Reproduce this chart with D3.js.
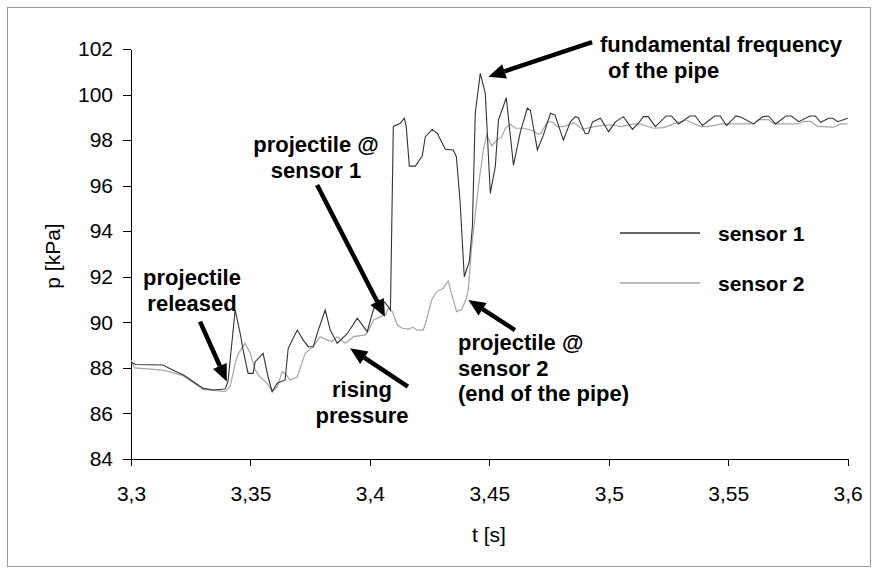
<!DOCTYPE html>
<html><head><meta charset="utf-8">
<script src="https://cdn.jsdelivr.net/npm/d3@7"></script>
<style>
html,body{margin:0;padding:0;background:#fff;}
svg{display:block;font-family:"Liberation Sans",Arial,sans-serif;}
</style></head>
<body>
<svg id="c" width="878" height="574"></svg>
<script>
// ---- data ----
const xTicks = [3.3, 3.35, 3.4, 3.45, 3.5, 3.55, 3.6];
const yTicks = [84, 86, 88, 90, 92, 94, 96, 98, 100, 102];
const seriesNames = ["sensor 1", "sensor 2"];

const s1T = [3.3000,3.3020,3.3134,3.3176,3.3218,3.3260,3.3302,3.3344,3.3394,3.3406,3.3436,3.3457,3.3469,3.3490,3.3511,3.3520,3.3553,3.3574,3.3591,3.3612,3.3645,3.3658,3.3696,3.3721,3.3742,3.3763,3.3784,3.3813,3.3834,3.3863,3.3905,3.3947,3.3989,3.4014,3.4035,3.4060,3.4077,3.4086,3.4098,3.4127,3.4144,3.4152,3.4165,3.4190,3.4219,3.4232,3.4261,3.4282,3.4316,3.4349,3.4362,3.4378,3.4395,3.4416,3.4429,3.4441,3.4462,3.4483,3.4504,3.4525,3.4538,3.4571,3.4601,3.4630,3.4659,3.4672,3.4701,3.4726,3.4756,3.4775,3.4810,3.4839,3.4860,3.4872,3.4902,3.4915,3.4932,3.4965,3.4999,3.5028,3.5061,3.5099,3.5124,3.5145,3.5165,3.5195,3.5240,3.5262,3.5292,3.5340,3.5362,3.5392,3.5443,3.5466,3.5493,3.5532,3.5554,3.5606,3.5645,3.5668,3.5698,3.5742,3.5764,3.5795,3.5842,3.5864,3.5887,3.5920,3.5938,3.5958,3.6000];
const s1P = [88.25,88.15,88.13,87.90,87.70,87.40,87.10,87.03,87.07,87.40,90.54,89.52,88.80,87.76,87.76,88.27,88.64,87.60,86.96,87.33,87.47,88.86,89.66,89.22,88.93,88.93,89.66,90.54,89.66,89.08,89.50,90.18,89.59,90.54,90.98,90.90,90.69,90.54,98.60,98.74,98.96,98.60,96.86,96.86,97.30,98.15,98.47,98.30,97.60,97.57,97.27,95.23,92.00,92.66,94.20,99.18,100.93,100.05,95.67,96.84,98.88,99.86,96.90,98.37,99.40,99.30,97.57,98.22,99.18,99.10,98.00,98.80,99.03,98.98,98.27,98.30,98.80,98.96,98.37,98.80,99.03,98.47,98.74,99.03,99.03,98.59,99.06,99.06,98.71,99.06,99.06,98.64,99.06,99.06,98.64,99.06,99.00,98.71,99.03,99.06,98.71,99.06,99.06,98.81,99.06,99.06,98.78,98.96,98.96,98.81,98.96];

const s2T = [3.3000,3.3015,3.3134,3.3218,3.3302,3.3358,3.3394,3.3415,3.3436,3.3450,3.3478,3.3499,3.3520,3.3540,3.3569,3.3591,3.3612,3.3633,3.3645,3.3666,3.3696,3.3715,3.3729,3.3763,3.3792,3.3820,3.3841,3.3863,3.3897,3.3932,3.3981,3.3995,3.4016,3.4044,3.4064,3.4078,3.4094,3.4115,3.4136,3.4164,3.4180,3.4195,3.4223,3.4237,3.4258,3.4279,3.4307,3.4328,3.4342,3.4363,3.4384,3.4402,3.4412,3.4426,3.4454,3.4475,3.4489,3.4510,3.4531,3.4552,3.4567,3.4588,3.4609,3.4644,3.4686,3.4700,3.4714,3.4742,3.4763,3.4784,3.4812,3.4854,3.4875,3.4889,3.4938,3.4980,3.5022,3.5050,3.5105,3.5133,3.5187,3.5230,3.5271,3.5313,3.5330,3.5385,3.5414,3.5477,3.5606,3.5627,3.5669,3.5690,3.5790,3.5816,3.5845,3.5874,3.5941,3.5971,3.6000];
const s2P = [88.35,88.00,87.90,87.66,87.06,87.00,86.96,87.17,88.20,88.64,89.08,88.64,87.90,87.60,87.33,86.96,87.17,87.83,87.76,87.47,87.60,88.20,88.64,88.93,89.37,89.23,89.15,89.37,89.08,89.37,89.45,89.66,90.10,90.25,90.32,90.62,90.47,89.88,89.74,89.70,89.80,89.66,89.66,90.10,90.98,91.35,91.50,91.82,91.24,90.47,90.56,91.00,91.45,93.32,95.96,97.57,98.22,97.75,98.00,98.15,98.52,98.70,98.52,98.52,98.40,98.27,98.27,98.80,98.80,98.59,98.59,98.77,98.60,98.47,98.59,98.66,98.66,98.59,98.70,98.70,98.52,98.55,98.71,98.85,98.85,98.59,98.59,98.71,98.71,98.90,98.90,98.71,98.71,98.82,98.82,98.60,98.57,98.71,98.71];

// annotation arrows, in data coordinates
const arrowTails = [[3.3289, 90.03], [3.3779, 96.03], [3.4159, 87.18], [3.4607, 89.66], [3.4930, 102.3]];
const arrowTips  = [[3.3401, 87.40], [3.4063, 90.25], [3.3917, 88.86], [3.4412, 90.98], [3.4496, 100.78]];
const noteLines = [
  ["projectile", "released"],
  ["projectile @", "sensor 1"],
  ["rising", "pressure"],
  ["projectile @", "sensor 2", "(end of the pipe)"],
  ["fundamental frequency", "of the pipe"]
];

// ---- layout ----
const svg = d3.select("#c");
const x = d3.scaleLinear().domain([3.3, 3.6]).range([131, 847.7]);
const y = d3.scaleLinear().domain([84, 102]).range([459, 49]);

svg.append("rect").attr("x", 7.5).attr("y", 7.5).attr("width", 863).attr("height", 559)
  .attr("fill", "none").attr("stroke", "#9a9a9a").attr("stroke-width", 1);

const fmtX = v => String(+v.toFixed(2)).replace(".", ",");

const gx = svg.append("g").attr("transform", "translate(0,459)")
  .call(d3.axisBottom(x).tickValues(xTicks).tickSize(7).tickSizeOuter(0).tickPadding(20).tickFormat(fmtX));
const gy = svg.append("g").attr("transform", "translate(131,0)")
  .call(d3.axisLeft(y).tickValues(yTicks).tickSize(8).tickSizeOuter(0).tickPadding(10).tickFormat(d3.format("d")));
[gx, gy].forEach(g => {
  g.selectAll("text").attr("font-size", 21).attr("fill", "#000")
    .attr("font-family", "'Liberation Sans',Arial,sans-serif");
  g.selectAll("path,line").attr("stroke", "#000").attr("shape-rendering", "crispEdges");
});

svg.append("text").attr("x", 489).attr("y", 542).attr("text-anchor", "middle")
  .attr("font-size", 21).text("t [s]");
svg.append("text").attr("transform", "translate(60,256) rotate(-90)").attr("text-anchor", "middle")
  .attr("font-size", 21).text("p [kPa]");

// ---- series ----
const s1 = s1T.map((t, i) => [t, s1P[i]]);
const s2 = s2T.map((t, i) => [t, s2P[i]]);
const line = d3.line().x(d => x(d[0])).y(d => y(d[1]));
const colors = ["#333333", "#a6a6a6"];
svg.append("path").datum(s2).attr("d", line).attr("fill", "none").attr("stroke", colors[1]).attr("stroke-width", 1.2);
svg.append("path").datum(s1).attr("d", line).attr("fill", "none").attr("stroke", colors[0]).attr("stroke-width", 1.1);

// ---- legend ----
const lg = svg.append("g");
seriesNames.forEach((n, i) => {
  const yy = 233 + i * 50;
  lg.append("line").attr("x1", 620).attr("x2", 700).attr("y1", yy).attr("y2", yy)
    .attr("stroke", colors[i]).attr("stroke-width", 1.3);
  lg.append("text").attr("x", 718).attr("y", yy + 8).attr("font-size", 21).attr("font-weight", "bold").text(n);
});

// ---- annotations ----
function arrow(t0, p0, t1, p1) {
  const x0 = x(t0), y0 = y(p0), x1 = x(t1), y1 = y(p1);
  const a = Math.atan2(y1 - y0, x1 - x0), L = 17, W = 7.5;
  const bx = x1 - L * Math.cos(a), by = y1 - L * Math.sin(a);
  svg.append("line").attr("x1", x0).attr("y1", y0).attr("x2", bx).attr("y2", by)
    .attr("stroke", "#000").attr("stroke-width", 4.5);
  svg.append("path").attr("d", `M${x1},${y1}L${bx + W * Math.sin(a)},${by - W * Math.cos(a)}L${bx - W * Math.sin(a)},${by + W * Math.cos(a)}Z`)
    .attr("fill", "#000");
}
arrowTails.forEach((tl, i) => arrow(tl[0], tl[1], arrowTips[i][0], arrowTips[i][1]));

const notePos = [
  {x: 192, y: 285, anchor: "middle"},
  {x: 316, y: 152, anchor: "middle"},
  {x: 362, y: 397, anchor: "middle"},
  {x: 458, y: 350, anchor: "start"},
  {x: 600, y: 52, anchor: "start", indent: [0, 8]}
];
noteLines.forEach((ls, i) => {
  const p = notePos[i];
  const t = svg.append("text").attr("font-size", 22).attr("font-weight", "bold")
    .attr("text-anchor", p.anchor);
  ls.forEach((s, j) => t.append("tspan").attr("x", p.x + (p.indent ? p.indent[j] : 0)).attr("y", p.y + j * 25.5).text(s));
});
</script>
</body></html>
